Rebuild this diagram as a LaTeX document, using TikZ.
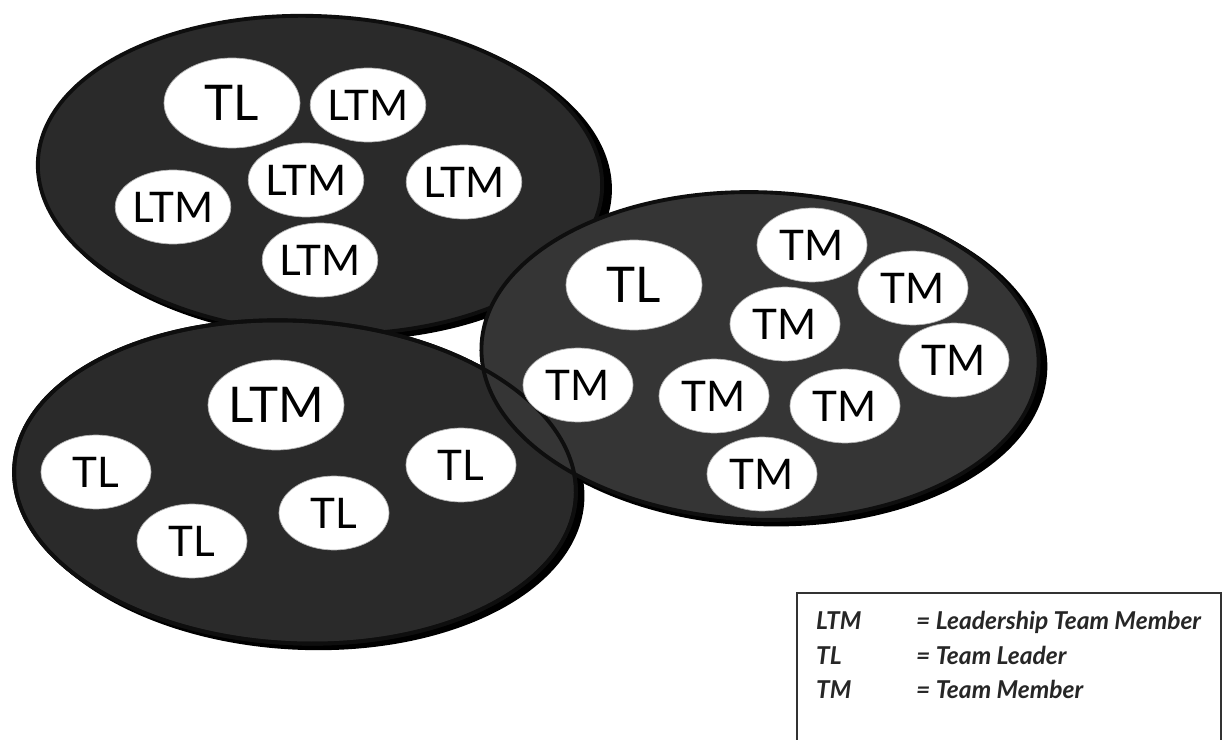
\documentclass[tikz,border=0pt]{standalone}
\usepackage{fontspec}
\setmainfont{Lato}
\usetikzlibrary{shapes.geometric}
\definecolor{blobfill}{HTML}{2A2A2A}
\definecolor{blobedge}{HTML}{0E0E0E}
\tikzset{
  blob/.style={ellipse, fill=blobfill, draw=blobedge, line width=2.2pt, inner sep=0pt},
  blobshadow/.style={ellipse, fill=black, inner sep=0pt},
  bigmem/.style={ellipse, fill=white, draw=gray!60, line width=0.4pt, inner sep=0pt,
     minimum width=2.72cm, minimum height=1.8cm, font=\fontsize{28}{28}\selectfont},
  mem/.style={ellipse, fill=white, draw=gray!60, line width=0.4pt, inner sep=0pt,
     minimum width=2.2cm, minimum height=1.48cm, font=\fontsize{24}{24}\selectfont},
  legtext/.style={anchor=base west, font=\fontsize{14}{15}\selectfont\bfseries\itshape, text=black!85}
}
\begin{document}
\begin{tikzpicture}[x=0.02cm, y=-0.02cm]
\useasboundingbox (0,0) rectangle (1224,740);
% shadows
\node[blobshadow, minimum width=11.45cm, minimum height=6.45cm, rotate=-3] (topsh) at (326,179) {};
\node[blobshadow, minimum width=11.35cm, minimum height=6.55cm, rotate=-3] (botsh) at (301,486) {};
\node[blobshadow, minimum width=11.3cm, minimum height=6.65cm, rotate=-2] (rightsh) at (765,360) {};
% groups
\node[blob, minimum width=11.3cm, minimum height=6.35cm, rotate=-3] (top) at (320,175) {};
\node[blob, minimum width=11.25cm, minimum height=6.45cm, rotate=-3] (bot) at (295,482) {};
\node[blob, minimum width=11.15cm, minimum height=6.55cm, rotate=-2, fill=blobfill!95!white] (right) at (760,356) {};
\node[blob, fill=none, minimum width=11.25cm, minimum height=6.45cm, rotate=-3] (botline) at (295,482) {};
% top group
\node[bigmem] (t1) at (232,103) {TL};
\node[mem] (t2) at (368,105) {LTM};
\node[mem] (t3) at (306,180) {LTM};
\node[mem] (t4) at (173,207) {LTM};
\node[mem] (t5) at (464,182) {LTM};
\node[mem] (t6) at (320,260) {LTM};
% bottom group
\node[bigmem] (b1) at (276,405) {LTM};
\node[mem] (b2) at (96,472) {TL};
\node[mem] (b3) at (192,541) {TL};
\node[mem] (b4) at (334,513) {TL};
\node[mem] (b5) at (461,465) {TL};
% right group
\node[bigmem] (r1) at (634,285) {TL};
\node[mem] (r2) at (812,245) {TM};
\node[mem] (r3) at (913,288) {TM};
\node[mem] (r4) at (785,324) {TM};
\node[mem] (r5) at (954,360) {TM};
\node[mem] (r6) at (578,385) {TM};
\node[mem] (r7) at (714,396) {TM};
\node[mem] (r8) at (845,406) {TM};
\node[mem] (r9) at (762,474) {TM};
% legend
\draw[black!80, line width=0.8pt] (797,760) -- (797,593) -- (1221,593) -- (1221,760);
\node[legtext] (l1) at (810,629) {LTM};
\node[legtext] (l1d) at (910,629) {= Leadership Team Member};
\node[legtext] (l2) at (810,664) {TL};
\node[legtext] (l2d) at (910,664) {= Team Leader};
\node[legtext] (l3) at (810,698) {TM};
\node[legtext] (l3d) at (910,698) {= Team Member};
\end{tikzpicture}
\end{document}
